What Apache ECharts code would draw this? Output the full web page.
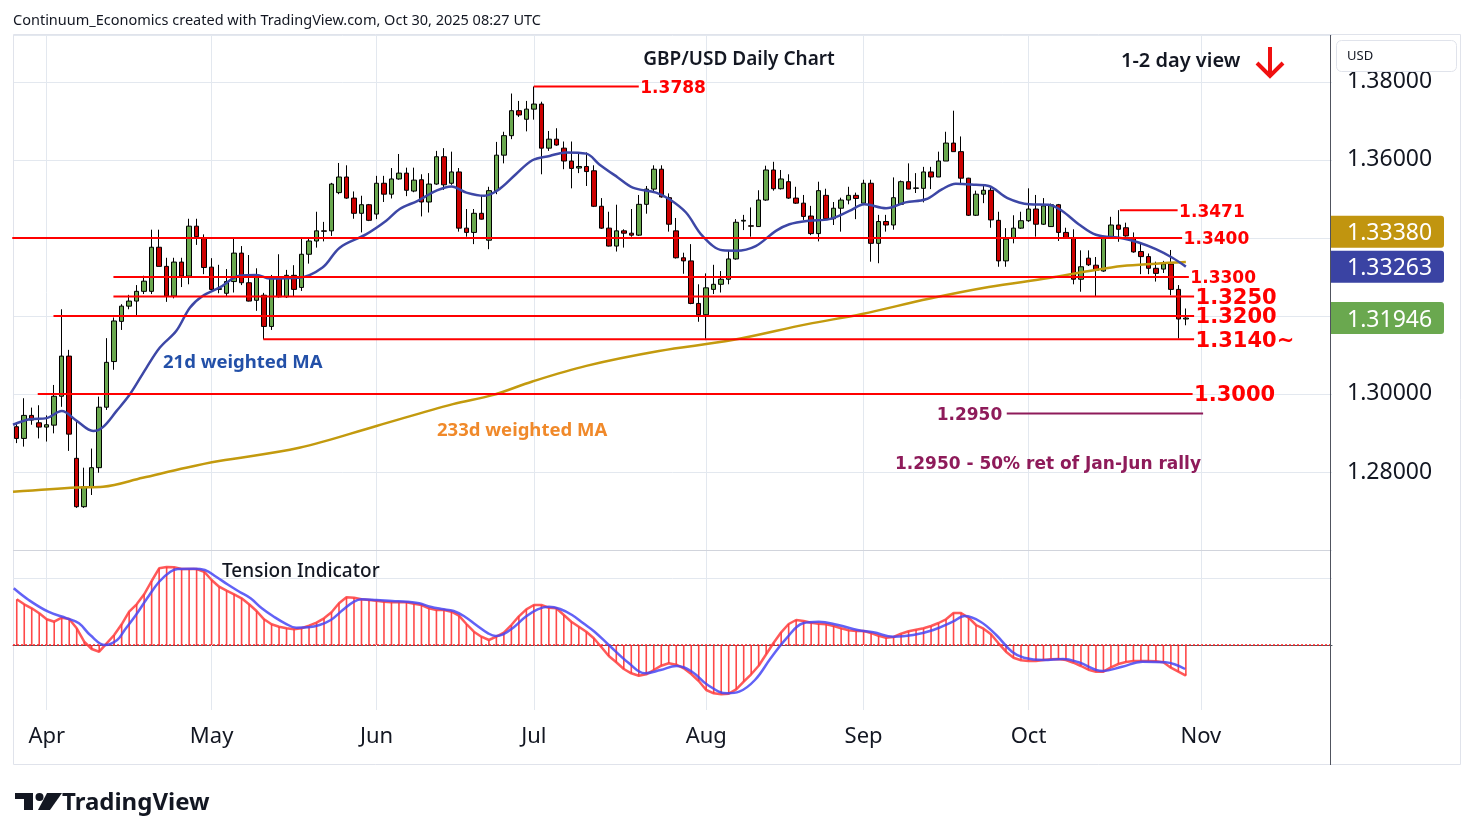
<!DOCTYPE html>
<html><head><meta charset="utf-8">
<script src="https://cdn.jsdelivr.net/npm/echarts@6/dist/echarts.min.js"></script>
<style>html,body{margin:0;padding:0;background:#fff}#c{width:1474px;height:840px}</style>
</head><body><div id="c"></div>
<script>
// ---------------- DATA ----------------
const startDate = '2025-03-26';
const nSlots = 176;
const monthNames = ['Jan','Feb','Mar','Apr','May','Jun','Jul','Aug','Sep','Oct','Nov','Dec'];

const open = [1.2916,1.2886,1.2945,1.2926,1.2915,1.2920,1.2994,1.3097,1.2835,1.2711,
1.2762,1.2811,1.2966,1.3083,1.3186,1.3225,1.3238,1.3263,1.3263,1.3376,
1.3327,1.3251,1.3338,1.3302,1.3430,1.3400,1.3325,1.3268,1.3258,1.3288,
1.3361,1.3285,1.3240,1.3253,1.3173,1.3301,1.3249,1.3304,1.3273,1.3358,
1.3392,1.3418,1.3418,1.3516,1.3556,1.3502,1.3463,1.3485,1.3461,1.3540,
1.3512,1.3551,1.3566,1.3520,1.3549,1.3492,1.3538,1.3608,1.3540,1.3569,
1.3425,1.3414,1.3463,1.3394,1.3521,1.3612,1.3662,1.3726,1.3704,1.3730,
1.3743,1.3630,1.3653,1.3630,1.3597,1.3579,1.3583,1.3572,1.3481,1.3425,
1.3379,1.3418,1.3412,1.3407,1.3486,1.3525,1.3576,1.3503,1.3418,1.3349,
1.3341,1.3232,1.3203,1.3268,1.3281,1.3294,1.3346,1.3443,1.3431,1.3429,
1.3497,1.3574,1.3526,1.3544,1.3502,1.3489,1.3456,1.3411,1.3509,1.3449,
1.3476,1.3497,1.3509,1.3489,1.3540,1.3386,1.3442,1.3433,1.3486,1.3544,
1.3527,1.3527,1.3569,1.3556,1.3597,1.3643,1.3621,1.3553,1.3458,1.3512,
1.3522,1.3445,1.3341,1.3399,1.3425,1.3444,1.3474,1.3435,1.3429,1.3485,
1.3414,1.3401,1.3294,1.3348,1.3330,1.3315,1.3401,1.3433,1.3426,1.3399,
1.3365,1.3352,1.3322,1.3320,1.3333,1.3268,1.3192];
const close = [1.2886,1.2945,1.2933,1.2915,1.2921,1.2994,1.3097,1.2897,1.2711,1.2762,
1.2811,1.2966,1.3081,1.3187,1.3225,1.3238,1.3263,1.3289,1.3376,1.3327,
1.3251,1.3338,1.3302,1.3430,1.3403,1.3324,1.3268,1.3270,1.3288,1.3361,
1.3285,1.3238,1.3305,1.3173,1.3301,1.3249,1.3304,1.3268,1.3358,1.3392,
1.3418,1.3417,1.3538,1.3556,1.3502,1.3463,1.3485,1.3445,1.3540,1.3512,
1.3551,1.3566,1.3522,1.3548,1.3492,1.3538,1.3608,1.3536,1.3569,1.3425,
1.3414,1.3463,1.3448,1.3521,1.3612,1.3662,1.3726,1.3715,1.3730,1.3743,
1.3630,1.3653,1.3638,1.3597,1.3578,1.3583,1.3570,1.3481,1.3425,1.3379,
1.3418,1.3412,1.3407,1.3486,1.3525,1.3576,1.3505,1.3435,1.3349,1.3341,
1.3232,1.3203,1.3272,1.3281,1.3294,1.3346,1.3440,1.3445,1.3430,1.3497,
1.3574,1.3526,1.3551,1.3502,1.3489,1.3455,1.3411,1.3521,1.3449,1.3476,
1.3497,1.3509,1.3501,1.3540,1.3386,1.3442,1.3433,1.3503,1.3544,1.3525,
1.3528,1.3569,1.3556,1.3597,1.3643,1.3621,1.3553,1.3458,1.3512,1.3522,
1.3446,1.3341,1.3397,1.3425,1.3444,1.3474,1.3435,1.3482,1.3485,1.3414,
1.3401,1.3294,1.3326,1.3331,1.3317,1.3401,1.3433,1.3422,1.3405,1.3364,
1.3352,1.3322,1.3309,1.3333,1.3268,1.3192,1.31946];
const low = [1.2874,1.2865,1.2921,1.2886,1.2878,1.2899,1.2967,1.2854,1.2708,1.2708,
1.2741,1.2798,1.2959,1.3062,1.3164,1.3217,1.3202,1.3256,1.3256,1.3327,
1.3236,1.3245,1.3274,1.3281,1.3382,1.3307,1.3262,1.3258,1.3251,1.3260,
1.3279,1.3237,1.3213,1.3140,1.3164,1.3247,1.3246,1.3251,1.3264,1.3334,
1.3375,1.3391,1.3405,1.3512,1.3500,1.3449,1.3414,1.3443,1.3448,1.3492,
1.3501,1.3549,1.3507,1.3517,1.3455,1.3465,1.3536,1.3523,1.3536,1.3416,
1.3403,1.3384,1.3447,1.3371,1.3512,1.3591,1.3653,1.3710,1.3673,1.3703,
1.3563,1.3623,1.3636,1.3576,1.3527,1.3566,1.3533,1.3479,1.3423,1.3378,
1.3365,1.3375,1.3403,1.3405,1.3462,1.3516,1.3503,1.3416,1.3347,1.3308,
1.3230,1.3185,1.3138,1.3256,1.3260,1.3281,1.3344,1.3420,1.3403,1.3428,
1.3495,1.3521,1.3524,1.3500,1.3487,1.3446,1.3407,1.3391,1.3447,1.3433,
1.3416,1.3486,1.3448,1.3487,1.3339,1.3335,1.3416,1.3421,1.3486,1.3525,
1.3515,1.3491,1.3525,1.3556,1.3597,1.3621,1.3538,1.3456,1.3456,1.3489,
1.3426,1.3326,1.3326,1.3386,1.3423,1.3441,1.3403,1.3433,1.3428,1.3392,
1.3400,1.3281,1.3262,1.3328,1.3251,1.3313,1.3400,1.3390,1.3403,1.3362,
1.3307,1.3307,1.3288,1.3310,1.3253,1.3142,1.3176];
const high = [1.2925,1.2989,1.2965,1.2971,1.2945,1.3023,1.3217,1.3113,1.2933,1.2811,
1.2860,1.2993,1.3143,1.3196,1.3230,1.3254,1.3279,1.3303,1.3421,1.3421,
1.3349,1.3349,1.3349,1.3449,1.3449,1.3409,1.3348,1.3331,1.3320,1.3398,
1.3379,1.3356,1.3322,1.3259,1.3305,1.3358,1.3318,1.3330,1.3398,1.3398,
1.3467,1.3441,1.3541,1.3592,1.3586,1.3519,1.3508,1.3487,1.3559,1.3559,
1.3579,1.3615,1.3580,1.3580,1.3563,1.3566,1.3623,1.3630,1.3621,1.3579,
1.3474,1.3474,1.3510,1.3531,1.3646,1.3672,1.3770,1.3751,1.3751,1.3788,
1.3749,1.3674,1.3681,1.3647,1.3647,1.3619,1.3619,1.3586,1.3502,1.3467,
1.3485,1.3422,1.3474,1.3510,1.3533,1.3586,1.3586,1.3514,1.3451,1.3362,
1.3384,1.3281,1.3309,1.3331,1.3315,1.3367,1.3448,1.3459,1.3478,1.3522,
1.3585,1.3595,1.3574,1.3563,1.3531,1.3510,1.3482,1.3544,1.3526,1.3492,
1.3503,1.3531,1.3516,1.3549,1.3549,1.3459,1.3459,1.3555,1.3547,1.3591,
1.3566,1.3582,1.3582,1.3621,1.3672,1.3726,1.3660,1.3554,1.3521,1.3538,
1.3531,1.3467,1.3425,1.3458,1.3467,1.3527,1.3510,1.3502,1.3488,1.3487,
1.3426,1.3422,1.3368,1.3368,1.3351,1.3405,1.3454,1.3471,1.3439,1.3414,
1.3385,1.3360,1.3339,1.3341,1.3369,1.3279,1.3219];

// 21d weighted MA (sampled along the line: bar position, price)
const ma21Idx = [-0.5,1.7,4,6,8,10.2,11.5,13.3,15.1,17.3,19.1,21.3,23.1,24.8,27.1,29.7,32,33.7,37.7,40.8,
43.1,46.6,49.3,51.1,53.5,56,58,60,62.4,64.4,66.6,68.8,71.1,73.3,76,77.7,80.2,82.2,85.3,87.1,
89.3,91.5,94.2,96,98.6,101.3,103.1,105.7,108.4,111.1,113.1,116,118.6,121.3,123.5,125.3,128,129.7,132.2,135.1,
137.7,139.5,141.7,144,147.5,149.7,152,154.2,156];
const ma21Val = [1.2921,1.2935,1.2938,1.2956,1.2931,1.2905,1.2915,1.2956,1.2999,1.3067,1.3119,1.3162,1.3221,1.3251,1.3273,1.3303,1.3305,1.3296,1.3298,1.3324,
1.3375,1.3409,1.3444,1.3474,1.3495,1.3521,1.3532,1.3516,1.3508,1.3525,1.3563,1.3599,1.3610,1.3619,1.3616,1.3589,1.3555,1.3529,1.3516,1.3499,
1.3465,1.3405,1.3368,1.3367,1.3379,1.3418,1.3435,1.3444,1.3448,1.3469,1.3486,1.3476,1.3491,1.3499,1.3525,1.3539,1.3536,1.3533,1.3502,1.3486,
1.3485,1.3469,1.3435,1.3408,1.3399,1.3388,1.3371,1.3349,1.33263];

// 233d weighted MA
const ma233Idx = [-0.5,8,11.5,16.8,22.6,27,37.7,48,58.2,63.5,68.8,76,85.7,95.5,105.5,112.8,121.7,129.7,137.7,143.1,147.5,152,156];
const ma233Val = [1.2749,1.2760,1.2762,1.2785,1.2811,1.2828,1.2862,1.2918,1.2974,1.2997,1.3032,1.3072,1.3110,1.3138,1.3179,1.3205,1.3244,1.3274,1.3297,1.3315,1.3328,1.3334,1.3338];

// Tension indicator (per bar) and its signal line (sampled)
const tension = [45.7,40.7,36.7,31.7,25.7,23.3,27.3,26,16.7,3.3,
-4,-6.7,1.7,10,20.7,33.3,40.7,50.7,64,76.7,
78,77.7,76,76,76,73.3,65,58.3,54.3,50.7,
46.7,40.7,34,25.7,20.7,18.3,16.7,15.7,16.7,19.3,
22.3,26.7,32.7,41.7,47.7,47.3,45.7,45,44.3,43.3,
42.7,42.7,42.7,41.3,40,36.7,35,35,33.3,29.3,
21,13.3,8.3,5,8.3,12.3,20,28.7,35.7,40,
40,37.3,36.7,30,23.3,18.3,13.3,6.7,-2,-11,
-17.3,-24,-28.3,-30.7,-29.3,-25,-20.7,-18.3,-19.7,-23.3,
-29,-36,-45,-48.3,-49.3,-48.7,-44.3,-36.7,-29.3,-20.7,
-9.3,2.3,12.7,21,25,24,22.3,21.3,20.7,19,
16.7,14.7,14,14,12,9.3,7.3,8,11.3,13.7,
15.3,16.7,19,22,25.7,32,32,27.3,20,16.3,
10.7,1.7,-6.7,-12.7,-15.3,-16,-16,-15,-14.3,-14,
-15,-17.7,-21,-24.7,-26.7,-26.7,-22.3,-19,-17,-16,
-16,-16,-16.3,-17.3,-22.7,-26.7,-30.7];
const sigIdx = [-0.4,1.6,4.2,6.7,8.3,9.8,11.8,13.4,14.4,15.9,17.4,19,20.5,21.5,23.6,25.1,26.6,28.1,29.7,31.2,
32.7,34.3,35.8,37.3,38.9,40.4,41.9,43.5,45,46,48,50.1,52.1,53.7,55.2,56.7,58.3,59.8,61.3,62.9,
63.9,64.9,66.4,67.9,69.5,71,72.5,74.1,75.6,77.1,79,81.7,83.8,85.9,88,90.1,92.2,94.8,96.4,98.5,
100.6,102.7,104.9,107,109.6,112.2,114.3,117,119.6,122.3,124.9,126.5,128.6,130.7,132.8,134.4,137,139.6,141.7,144.9,
147.5,150.2,153.3,155.9];
const sigVal = [56.7,45,33.3,26.7,21.7,10,0,5,15,30,46.7,63.3,73.3,76,76.3,75,68.3,60.7,53.3,46.7,
36.7,28.3,21.7,17.3,17.7,20,25,35,43.3,45.7,45,44,43.3,41.7,38.3,36,34,28.3,20,11.7,
9,10.7,18.3,28.3,35.7,38.3,36,30,21.7,13.3,0,-18.3,-28.3,-25,-21,-26.7,-40,-48.3,-46.7,-35,
-13.3,6.7,21.7,23.3,20,15,12.7,8.3,10,15,23.3,29,23.3,10,-6.7,-12.7,-15,-14,-17.3,-26,
-21.7,-16.7,-17.3,-24];

// Horizontal levels (price, from bar, to bar, label)
const levelValues = [1.3788, 1.3471, 1.3400, 1.3300, 1.3250, 1.3200, 1.3140, 1.3000, 1.2950];
const levelFrom   = [69, 147.2, -0.6, 12.9, 12.9, 4.9, 32.9, 2.8, 132.1];
const levelTo     = [83, 154.9, 155.5, 156.4, 157.1, 157.1, 157.1, 156.9, 158.3];
const levelText   = ['1.3788','1.3471','1.3400','1.3300','1.3250','1.3200','1.3140~','1.3000','1.2950'];

// price axis ticks
const yMin = 1.26, yMax = 1.392, yStep = 0.02;

// ---------------- STYLES ----------------
const RED = '#ff0000', PURPLE = '#8e1b5a';
const levelLook = [
  {size:17,color:RED,side:'right'},{size:17,color:RED,side:'right'},{size:17,color:RED,side:'right'},
  {size:17,color:RED,side:'right'},{size:21,color:RED,side:'right'},{size:21,color:RED,side:'right'},
  {size:21,color:RED,side:'right'},{size:21,color:RED,side:'right'},{size:17,color:PURPLE,side:'left'}];
const GRIDC = '#e3e8ef';

// ---------------- BUILD ----------------
function weekdays(start, n){
  const out=[]; const d=new Date(start+'T00:00:00Z');
  while(out.length<n){ const wd=d.getUTCDay(); if(wd!==0&&wd!==6) out.push(d.toISOString().slice(0,10)); d.setUTCDate(d.getUTCDate()+1); }
  return out;
}
const dates = weekdays(startDate, nSlots);
const isMonthStart = dates.map((d,i)=> i>0 && d.slice(5,7)!==dates[i-1].slice(5,7));
const monthIdx = []; isMonthStart.forEach((f,i)=>{ if(f) monthIdx.push(i); });

const candles = open.map((o,i)=>[o, close[i], low[i], high[i]]);
const pair = (xs, ys) => xs.map((x,i)=>[x, ys[i]]);

const chart = echarts.init(document.getElementById('c'), null, {renderer:'canvas'});
const GL = 13, GW = 1319;

const series = [];
series.push({
  type:'candlestick', xAxisIndex:0, yAxisIndex:0, data:candles, barWidth:5, z:3,
  itemStyle:{color:'#6aa84f', color0:'#cc0000', borderColor:'#000', borderColor0:'#000', borderWidth:1}
});
series.push({type:'line', xAxisIndex:2, yAxisIndex:0, data:[], silent:true,
  markLine:{silent:true, symbol:'none', z:1, label:{show:false}, lineStyle:{color:GRIDC, width:1, type:'solid'},
    data: monthIdx.map(i=>({xAxis:i}))}});
series.push({type:'line', xAxisIndex:2, yAxisIndex:0, data:pair(ma233Idx, ma233Val), smooth:0.35, symbol:'none', z:4,
  lineStyle:{color:'#c39a0e', width:2.5}});
series.push({type:'line', xAxisIndex:2, yAxisIndex:0, data:pair(ma21Idx, ma21Val), smooth:0.35, symbol:'none', z:4,
  lineStyle:{color:'#3d47a6', width:2.5}});
levelValues.forEach((v,k)=>{
  const lk = levelLook[k];
  series.push({type:'line', xAxisIndex:2, yAxisIndex:0, symbol:'none', z:6, silent:true,
    data:[[levelFrom[k], v],[levelTo[k], v]],
    lineStyle:{color:lk.color, width:2},
    markPoint:{symbol:'rect', symbolSize:1, itemStyle:{color:'rgba(0,0,0,0)'}, z:7,
      data:[{coord:[lk.side==='right'?levelTo[k]:levelFrom[k], v]}],
      label:{show:true, position:lk.side, distance:lk.side==='right'?1:4, offset:[0,2], formatter:levelText[k],
        color:lk.color, fontSize:lk.size, fontWeight:'bold', fontFamily:'DejaVu Sans'}}
  });
});
series.push({type:'line', xAxisIndex:3, yAxisIndex:1, data:[], silent:true,
  markLine:{silent:true, symbol:'none', z:1, label:{show:false},
    data: monthIdx.map(i=>({xAxis:i, lineStyle:{color:GRIDC, width:1, type:'solid'}}))
      .concat([{yAxis:67, lineStyle:{color:GRIDC, width:1, type:'solid'}},
               {yAxis:0, lineStyle:{color:'#ff2020', width:1.5, type:[2,2]}}])}});
series.push({type:'bar', xAxisIndex:1, yAxisIndex:1, data:tension, barWidth:1.6, z:2,
  itemStyle:{color:'rgba(255,40,40,0.85)'}});
series.push({type:'line', xAxisIndex:1, yAxisIndex:1, data:tension, symbol:'none', z:3,
  lineStyle:{color:'rgba(255,60,60,0.85)', width:2.5}});
series.push({type:'line', xAxisIndex:3, yAxisIndex:1, data:pair(sigIdx, sigVal), smooth:0.4, symbol:'none', z:4,
  lineStyle:{color:'rgba(70,70,245,0.85)', width:2.5}});

const option = {
  animation:false,
  backgroundColor:'#ffffff',
  grid:[{left:GL, top:35, width:GW, height:515},{left:GL, top:550, width:GW, height:160}],
  xAxis:[
    {type:'category', gridIndex:0, data:dates, boundaryGap:true, axisLine:{show:false}, axisTick:{show:false}, axisLabel:{show:false}, splitLine:{show:false}},
    {type:'category', gridIndex:1, data:dates, boundaryGap:true, axisLine:{show:true, lineStyle:{color:'#50535e', width:1}}, axisTick:{show:false},
      splitLine:{show:false},
      axisLabel:{interval:(i)=>isMonthStart[i], formatter:(v)=>monthNames[+v.slice(5,7)-1], color:'#131722', fontSize:22, fontFamily:'Noto Sans', margin:16}},
    {type:'value', gridIndex:0, min:-0.5, max:nSlots-0.5, show:false},
    {type:'value', gridIndex:1, min:-0.5, max:nSlots-0.5, show:false}
  ],
  yAxis:[
    {type:'value', gridIndex:0, position:'right', min:yMin, max:yMax, interval:yStep, scale:true,
      axisLine:{show:false}, axisTick:{show:false},
      splitLine:{show:true, lineStyle:{color:GRIDC, width:1}},
      axisLabel:{color:'#131722', fontSize:23, fontFamily:'Noto Sans', margin:15, padding:[4,0,0,0],
        formatter:(v)=> (v < yMin+0.005 || v > yMax-0.005) ? '' : v.toFixed(5)}},
    {type:'value', gridIndex:1, min:-65, max:95, show:false}
  ],
  series
};
chart.setOption(option);

// ------------- annotations / frame -------------
function txt(x,y,text,opt){
  return {type:'text', silent:true, z:opt.z||50, style:{x, y, text, fill:opt.fill||'#131722',
    font:opt.font, textAlign:opt.align||'left', textVerticalAlign:'middle'}};
}
const g = [];
g.push({type:'rect', silent:true, z:0, shape:{x:13.5,y:34.5,width:1447,height:730}, style:{fill:'none', stroke:'#e0e3eb', lineWidth:1}});
g.push({type:'line', silent:true, z:40, shape:{x1:13,y1:550.5,x2:1330,y2:550.5}, style:{stroke:'#d1d4dc', lineWidth:1}});
g.push({type:'line', silent:true, z:40, shape:{x1:1330.5,y1:35,x2:1330.5,y2:765}, style:{stroke:'#50535e', lineWidth:1}});
g.push(txt(13,21,'Continuum_Economics created with TradingView.com, Oct 30, 2025 08:27 UTC',{font:'14.5px "Noto Sans"', fill:'#131722'}));
g.push(txt(739,60,'GBP/USD Daily Chart',{font:'600 19px "Noto Sans"', align:'center'}));
g.push(txt(1121,61,'1-2 day view',{font:'600 20px "Noto Sans"'}));
g.push({type:'polyline', silent:true, z:50, shape:{points:[[1257,63],[1270,76],[1283,63]]}, style:{stroke:'#f01010', lineWidth:4, fill:'none'}});
g.push({type:'line', silent:true, z:50, shape:{x1:1270,y1:47,x2:1270,y2:75}, style:{stroke:'#f01010', lineWidth:4}});
g.push(txt(163,363,'21d weighted MA',{font:'bold 18.5px "Noto Sans"', fill:'#2350a8'}));
g.push(txt(437,431,'233d weighted MA',{font:'bold 18.5px "Noto Sans"', fill:'#f0892a'}));
g.push(txt(1201,465,'1.2950 - 50% ret of Jan-Jun rally',{font:'bold 17px "DejaVu Sans"', fill:PURPLE, align:'right'}));
g.push(txt(222,572,'Tension Indicator',{font:'500 19px "Noto Sans"'}));
g.push({type:'rect', silent:true, z:60, shape:{x:1336.5,y:40.5,width:120,height:31,r:5}, style:{fill:'#fff', stroke:'#e0e3eb', lineWidth:1}});
g.push(txt(1347,56,'USD',{font:'13px "Noto Sans"', z:61}));
// TradingView logo
g.push({type:'polygon', silent:true, z:50, shape:{points:[[15,793],[33,793],[33,810],[24,810],[24,799],[15,799]]}, style:{fill:'#131722'}});
g.push({type:'circle', silent:true, z:50, shape:{cx:39.5,cy:797,r:4}, style:{fill:'#131722'}});
g.push({type:'polygon', silent:true, z:50, shape:{points:[[47,793],[62,793],[50,810],[38,810]]}, style:{fill:'#131722'}});
g.push(txt(62,803,'TradingView',{font:'bold 24px "Noto Sans"'}));
// price tags from last values; overlapping tags are pushed apart (upwards)
const tags = [
  {v:close[close.length-1], fill:'#6aa84f'},
  {v:ma21Val[ma21Val.length-1], fill:'#3a43a3'},
  {v:ma233Val[ma233Val.length-1], fill:'#c1950f'}];
const TAGH = 32, TAGGAP = 35;
let prevY = null;
tags.forEach(t=>{
  let y = chart.convertToPixel({yAxisIndex:0}, t.v);
  if(prevY !== null && y > prevY - TAGGAP) y = prevY - TAGGAP;
  prevY = y;
  g.push({type:'rect', silent:true, z:70, shape:{x:1331,y:y-TAGH/2,width:113,height:TAGH,r:[0,3,3,0]}, style:{fill:t.fill}});
  g.push(txt(1347,y+2,t.v.toFixed(5),{font:'23px "Noto Sans"', fill:'#ffffff', z:71}));
});
chart.setOption({graphic:g});
</script></body></html>
